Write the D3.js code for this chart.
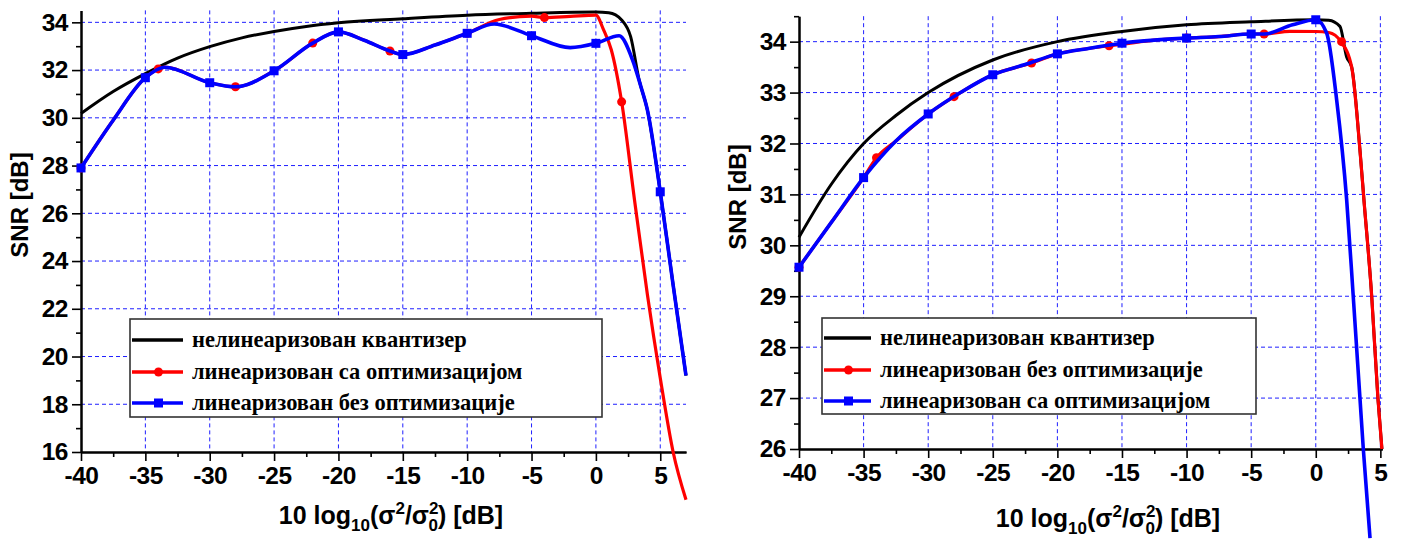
<!DOCTYPE html>
<html>
<head>
<meta charset="utf-8">
<script src="https://cdn.jsdelivr.net/npm/d3@7"></script>
<style>
  body { margin: 0; background: #fff; }
  svg { display: block; }
</style>
</head>
<body>
<svg id="chart" width="1402" height="542"></svg>
<script>
// ---------------- left panel data ----------------
const leftXTicks = [-40, -35, -30, -25, -20, -15, -10, -5, 0, 5];
const leftYTicks = [16, 18, 20, 22, 24, 26, 28, 30, 32, 34];

const leftBlackX = [-40, -37.5, -35, -32.5, -30, -27.5, -25, -22.5, -20, -15, -10, -5, 0, 1, 2, 2.7, 3.35, 4, 5, 6, 7];
const leftBlackY = [30.18, 31.1, 31.85, 32.5, 32.98, 33.35, 33.62, 33.83, 33.98, 34.15, 34.3, 34.38, 34.43, 34.4, 34.1, 33.4, 31.6, 30.33, 26.9, 23.0, 19.2];

const leftRedX = [-40, -37.5, -35, -33.5, -30, -28, -25, -22, -20, -18, -16, -15, -12.5, -10, -7.5, -5, -4, -2, 0, 0.6, 1.2, 2, 3, 4, 5, 6, 7];
const leftRedY = [27.9, 29.9, 31.68, 32.12, 31.47, 31.3, 31.97, 33.13, 33.6, 33.25, 32.8, 32.65, 33.05, 33.54, 34.12, 34.26, 34.2, 34.25, 34.3, 33.68, 32.84, 30.67, 26.56, 22.6, 19.1, 16.0, 14.0];
const leftRedMarkX = [-40, -34, -28, -22, -16, -10, -4, 2];
const leftRedMarkY = [27.9, 32.05, 31.3, 33.13, 32.8, 33.54, 34.2, 30.67];

const leftBlueX = [-40, -37.5, -35, -33.5, -30, -28, -25, -22, -20, -18, -16, -15, -12.5, -10, -7.9, -5, -2, 0, 1.8, 2.85, 3.5, 4, 5, 6, 7];
const leftBlueY = [27.9, 29.9, 31.68, 32.12, 31.47, 31.3, 31.97, 33.13, 33.6, 33.25, 32.8, 32.65, 33.05, 33.54, 33.93, 33.44, 32.94, 33.12, 33.44, 32.42, 31.3, 30.33, 26.9, 23.0, 19.2];
const leftBlueMarkX = [-40, -35, -30, -25, -20, -15, -10, -5, 0, 5];
const leftBlueMarkY = [27.9, 31.68, 31.47, 31.97, 33.6, 32.65, 33.54, 33.44, 33.12, 26.9];

const leftLegend = ['нелинеаризован квантизер', 'линеаризован са оптимизацијом', 'линеаризован без оптимизације'];

// ---------------- right panel data ----------------
const rightXTicks = [-40, -35, -30, -25, -20, -15, -10, -5, 0, 5];
const rightYTicks = [26, 27, 28, 29, 30, 31, 32, 33, 34];

const rightBlackX = [-40, -37.5, -35, -32.5, -30, -25, -20, -15, -10, -5, 0, 1, 1.87, 2.39, 2.78, 3.42, 3.73, 4.33, 4.81, 5.12];
const rightBlackY = [30.16, 31.2, 32.0, 32.55, 33.0, 33.64, 34.0, 34.2, 34.33, 34.39, 34.43, 34.42, 34.3, 33.7, 33.5, 31.87, 30.89, 29.0, 27.0, 26.0];

const rightRedX = [-40, -37.5, -35, -34, -32.5, -30, -28, -25, -22, -20, -17.5, -16, -15, -12.5, -10, -7.5, -5, -4, -2, 0, 1, 1.95, 2.78, 3.42, 3.73, 4.33, 4.81, 5.12];
const rightRedY = [29.57, 30.45, 31.33, 31.72, 32.05, 32.58, 32.92, 33.35, 33.58, 33.76, 33.87, 33.92, 33.95, 34.03, 34.07, 34.1, 34.15, 34.15, 34.2, 34.2, 34.18, 34.0, 33.5, 31.87, 30.89, 29.0, 27.0, 26.0];
const rightRedMarkX = [-40, -34, -28, -22, -16, -10, -4, 2];
const rightRedMarkY = [29.57, 31.72, 32.92, 33.58, 33.92, 34.07, 34.15, 34.0];

const rightBlueX = [-40, -37.5, -35, -32.5, -30, -27.5, -25, -22.5, -20, -17.5, -15, -12.5, -10, -7.5, -5, -4, -1.8, 0, 0.84, 1.62, 2.39, 2.9, 3.42, 3.68, 4.2];
const rightBlueY = [29.57, 30.45, 31.33, 32.05, 32.58, 33.0, 33.35, 33.55, 33.76, 33.87, 33.97, 34.03, 34.07, 34.1, 34.15, 34.15, 34.33, 34.43, 34.17, 32.85, 30.9, 29.0, 27.0, 26.0, 24.25];
const rightBlueMarkX = [-40, -35, -30, -25, -20, -15, -10, -5, 0];
const rightBlueMarkY = [29.57, 31.33, 32.58, 33.35, 33.76, 33.97, 34.07, 34.15, 34.43];

const rightLegend = ['нелинеаризован квантизер', 'линеаризован без оптимизације', 'линеаризован са оптимизацијом'];

const RED = '#ff0000', BLUE = '#0000ff', BLACK = '#000000';
const svg = d3.select('#chart');
const zip = (xs, ys) => xs.map((v, i) => [v, ys[i]]);

function drawPanel(p) {
  const x = d3.scaleLinear().domain(p.xDomain).range([p.left, p.right]);
  const y = d3.scaleLinear().domain(p.yDomain).range([p.bottom, p.top]);
  const g = svg.append('g');

  // dashed grid
  const grid = g.append('g')
    .attr('stroke', '#1f1fff')
    .attr('stroke-width', 1)
    .attr('stroke-dasharray', '4,3');
  grid.selectAll('.v')
    .data(p.xTicks.filter(d => d !== p.xDomain[0]))
    .join('line')
    .attr('class', 'v')
    .attr('x1', d => x(d)).attr('x2', d => x(d))
    .attr('y1', y(p.yDomain[1])).attr('y2', y(p.yDomain[0]));
  grid.selectAll('.h')
    .data(p.yTicks.filter(d => d !== p.yDomain[0]))
    .join('line')
    .attr('class', 'h')
    .attr('x1', x(p.xDomain[0])).attr('x2', x(p.xDomain[1]))
    .attr('y1', d => y(d)).attr('y2', d => y(d));

  // axes
  const xMinor = d3.axisBottom(x).tickValues(p.xMinor).tickSize(5).tickFormat('').tickSizeOuter(0);
  const yMinor = d3.axisLeft(y).tickValues(p.yMinor).tickSize(5).tickFormat('').tickSizeOuter(0);
  const xAxis = d3.axisBottom(x).tickValues(p.xTicks).tickSize(9).tickPadding(6)
    .tickFormat(d => String(d)).tickSizeOuter(0);
  const yAxis = d3.axisLeft(y).tickValues(p.yTicks).tickSize(9).tickPadding(4)
    .tickFormat(d => String(d)).tickSizeOuter(0);

  g.append('g').attr('transform', `translate(0,${p.bottom})`).call(xMinor);
  g.append('g').attr('transform', `translate(${p.left},0)`).call(yMinor);
  g.append('g').attr('class', 'axis').attr('transform', `translate(0,${p.bottom})`).call(xAxis);
  g.append('g').attr('class', 'axis').attr('transform', `translate(${p.left},0)`).call(yAxis);

  g.selectAll('.domain').attr('stroke', BLACK).attr('stroke-width', 2);
  g.selectAll('.tick line').attr('stroke', BLACK).attr('stroke-width', 1.6);
  g.selectAll('.axis text')
    .attr('font-family', '"Liberation Sans", Arial, sans-serif')
    .attr('font-weight', 'bold')
    .attr('font-size', 24.5)
    .attr('letter-spacing', -0.5)
    .attr('fill', BLACK);

  // curves
  const line = d3.line().x(d => x(d[0])).y(d => y(d[1])).curve(d3.curveMonotoneX);
  p.series.forEach(s => {
    g.append('path')
      .datum(zip(s.xs, s.ys))
      .attr('fill', 'none')
      .attr('stroke', s.color)
      .attr('stroke-width', s.width)
      .attr('stroke-linejoin', 'round')
      .attr('d', line);
    if (s.mx) {
      const pts = zip(s.mx, s.my);
      if (s.shape === 'circle') {
        g.selectAll(null).data(pts).join('circle')
          .attr('cx', d => x(d[0])).attr('cy', d => y(d[1]))
          .attr('r', 4.5).attr('fill', s.color);
      } else {
        g.selectAll(null).data(pts).join('rect')
          .attr('x', d => x(d[0]) - 4.5).attr('y', d => y(d[1]) - 4.5)
          .attr('width', 9).attr('height', 9).attr('fill', s.color);
      }
    }
  });

  // legend
  const L = p.legend;
  const lg = g.append('g');
  lg.append('rect')
    .attr('x', L.x).attr('y', L.y).attr('width', L.w).attr('height', L.h)
    .attr('fill', '#fff').attr('stroke', '#333').attr('stroke-width', 1.6);
  p.series.forEach((s, i) => {
    const cy = L.y + L.rows[i];
    lg.append('line')
      .attr('x1', L.x + 2).attr('x2', L.x + L.sample)
      .attr('y1', cy).attr('y2', cy)
      .attr('stroke', s.color).attr('stroke-width', 3.5);
    const mxc = L.x + L.sample / 2 + 2;
    if (s.shape === 'circle') {
      lg.append('circle').attr('cx', mxc).attr('cy', cy).attr('r', 4.5).attr('fill', s.color);
    } else if (s.shape === 'square') {
      lg.append('rect').attr('x', mxc - 4.5).attr('y', cy - 4.5).attr('width', 9).attr('height', 9).attr('fill', s.color);
    }
    lg.append('text')
      .attr('x', L.x + L.sample + 9).attr('y', cy)
      .attr('dy', '0.33em')
      .attr('font-family', '"Liberation Serif", "Times New Roman", serif')
      .attr('font-weight', 'bold')
      .attr('font-size', 22.5)
      .text(L.labels[i]);
  });

  // axis titles
  g.append('text')
    .attr('transform', `translate(${p.yTitleX},${p.yTitleY}) rotate(-90)`)
    .attr('text-anchor', 'middle')
    .attr('font-family', '"Liberation Sans", Arial, sans-serif')
    .attr('font-weight', 'bold')
    .attr('font-size', 24)
    .text('SNR [dB]');

  const t = g.append('text')
    .attr('x', p.xTitleX).attr('y', p.xTitleY)
    .attr('text-anchor', 'middle')
    .attr('font-family', '"Liberation Sans", Arial, sans-serif')
    .attr('font-weight', 'bold')
    .attr('font-size', 25);
  t.append('tspan').text('10 log');
  t.append('tspan').attr('dy', 7).attr('font-size', 17).text('10');
  t.append('tspan').attr('dy', -7).text('(σ');
  t.append('tspan').attr('dy', -10).attr('font-size', 17).text('2');
  t.append('tspan').attr('dy', 10).text('/σ');
  t.append('tspan').attr('dy', -10).attr('font-size', 17).text('2');
  t.append('tspan').attr('dx', -10).attr('dy', 17).attr('font-size', 17).text('0');
  t.append('tspan').attr('dy', -7).text(') [dB]');
}

drawPanel({
  xDomain: [-40, 7], yDomain: [16, 34.5],
  left: 81, right: 686, top: 10.4, bottom: 452,
  xTicks: leftXTicks, yTicks: leftYTicks,
  xMinor: [-37.5, -32.5, -27.5, -22.5, -17.5, -12.5, -7.5, -2.5, 2.5],
  yMinor: [17, 19, 21, 23, 25, 27, 29, 31, 33],
  series: [
    { xs: leftBlackX, ys: leftBlackY, color: BLACK, width: 3, shape: null },
    { xs: leftRedX, ys: leftRedY, mx: leftRedMarkX, my: leftRedMarkY, color: RED, width: 3.2, shape: 'circle' },
    { xs: leftBlueX, ys: leftBlueY, mx: leftBlueMarkX, my: leftBlueMarkY, color: BLUE, width: 3.6, shape: 'square' }
  ],
  legend: { x: 130, y: 319, w: 472, h: 98, sample: 53, rows: [21, 53, 84], labels: leftLegend },
  yTitleX: 28, yTitleY: 205,
  xTitleX: 391, xTitleY: 524
});

drawPanel({
  xDomain: [-40, 5.15], yDomain: [26, 34.5],
  left: 799, right: 1382.3, top: 16.2, bottom: 449,
  xTicks: rightXTicks, yTicks: rightYTicks,
  xMinor: [-37.5, -32.5, -27.5, -22.5, -17.5, -12.5, -7.5, -2.5, 2.5],
  yMinor: [26.5, 27.5, 28.5, 29.5, 30.5, 31.5, 32.5, 33.5, 34.5],
  series: [
    { xs: rightBlackX, ys: rightBlackY, color: BLACK, width: 3, shape: null },
    { xs: rightRedX, ys: rightRedY, mx: rightRedMarkX, my: rightRedMarkY, color: RED, width: 3.2, shape: 'circle' },
    { xs: rightBlueX, ys: rightBlueY, mx: rightBlueMarkX, my: rightBlueMarkY, color: BLUE, width: 3.6, shape: 'square' }
  ],
  legend: { x: 822, y: 318, w: 434, h: 96, sample: 49, rows: [20, 52, 83], labels: rightLegend },
  yTitleX: 746, yTitleY: 197,
  xTitleX: 1108, xTitleY: 527
});
</script>
</body>
</html>
